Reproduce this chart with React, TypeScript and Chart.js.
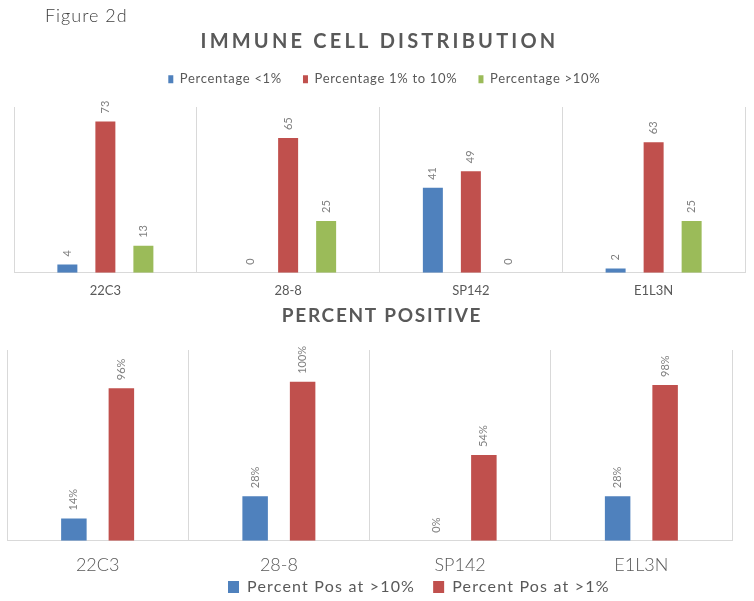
import React, { useEffect, useRef } from 'react';
import { Chart, registerables } from 'chart.js';

Chart.register(...registerables);

// ---- data ----
const categories = ['22C3', '28-8', 'SP142', 'E1L3N'];

const distTitle = 'IMMUNE CELL DISTRIBUTION';
const distSeriesNames = ['Percentage <1%', 'Percentage 1% to 10%', 'Percentage >10%'];
const pctBelow1 = [4, 0, 41, 2];
const pct1to10 = [73, 65, 49, 63];
const pctAbove10 = [13, 25, 0, 25];

const posTitle = 'PERCENT POSITIVE';
const posSeriesNames = ['Percent Pos at >10%', 'Percent Pos at >1%'];
const posAbove10 = [14, 28, 0, 28];
const posAbove1 = [96, 100, 54, 98];

const BLUE = '#4F81BD';
const RED = '#C0504D';
const GREEN = '#9BBB59';
const TEXT = '#595959';
const GRID = '#D9D9D9';
const FONT = 'Lato, "Open Sans", sans-serif';

function withSpacing(ctx: any, spacing: string, fn: () => any) {
  const prev = ctx.letterSpacing;
  ctx.letterSpacing = spacing;
  try {
    return fn();
  } finally {
    ctx.letterSpacing = prev;
  }
}

function tweaks(o: {
  titleSpacing: string;
  legendSpacing: string;
  legendHeight: number;
  legendLeft: number;
  titleLeft?: number;
}) {
  return {
    id: 'tweaks',
    beforeInit(chart: any) {
      const legend = chart.legend;
      const title = chart.titleBlock;
      const fit = legend.fit;
      legend.fit = function (...a: any[]) {
        withSpacing(this.ctx, o.legendSpacing, () => fit.apply(this, a));
        this.height = o.legendHeight;
      };
      const ldraw = legend.draw;
      legend.draw = function (...a: any[]) {
        withSpacing(this.ctx, o.legendSpacing, () => ldraw.apply(this, a));
      };
      const tdraw = title.draw;
      title.draw = function (...a: any[]) {
        withSpacing(this.ctx, o.titleSpacing, () => tdraw.apply(this, a));
      };
    },
    afterLayout(chart: any) {
      chart.legend.left = o.legendLeft;
      if (o.titleLeft != null) chart.titleBlock.left = o.titleLeft;
      // let tick labels extend below the (shortened) axis box without being clipped
      chart.scales.x.bottom = chart.height;
    },
  };
}

function valueLabels(suffix: string, size: number) {
  return {
    id: 'valueLabels',
    afterDatasetsDraw(chart: any) {
      const ctx = chart.ctx;
      ctx.save();
      ctx.font = `${size}px ${FONT}`;
      ctx.fillStyle = '#808080';
      ctx.textAlign = 'left';
      ctx.textBaseline = 'middle';
      chart.data.datasets.forEach((ds: any, i: number) => {
        const meta = chart.getDatasetMeta(i);
        meta.data.forEach((el: any, j: number) => {
          ctx.save();
          ctx.translate(el.x, el.y - 8);
          ctx.rotate(-Math.PI / 2);
          ctx.fillText(`${ds.data[j]}${suffix}`, 0, 0);
          ctx.restore();
        });
      });
      ctx.restore();
    },
  };
}

function DistChart() {
  const ref = useRef<HTMLCanvasElement>(null);
  useEffect(() => {
    const chart = new Chart(ref.current!, {
      type: 'bar',
      data: {
        labels: categories,
        datasets: [
          { label: distSeriesNames[0], data: pctBelow1, backgroundColor: BLUE, borderWidth: 0 },
          { label: distSeriesNames[1], data: pct1to10, backgroundColor: RED, borderWidth: 0 },
          { label: distSeriesNames[2], data: pctAbove10, backgroundColor: GREEN, borderWidth: 0 },
        ],
      },
      options: {
        responsive: false,
        animation: false,
        events: [],
        layout: { padding: { left: 14, right: 9, top: 0, bottom: 0 } },
        datasets: { bar: { categoryPercentage: 0.624, barPercentage: 0.526 } },
        scales: {
          x: {
            grid: { color: GRID, drawTicks: false, offset: true },
            border: { color: GRID },
            ticks: { color: TEXT, font: { family: FONT, size: 13 }, padding: 10 },
            afterFit: (s: any) => {
              s.height = 27.3;
            },
          },
          y: { display: false, min: 0, max: 80 },
        },
        plugins: {
          title: {
            display: true,
            text: distTitle,
            color: TEXT,
            font: { family: FONT, size: 20, weight: 'bold', lineHeight: 1 },
            padding: { top: 31.7, bottom: 0 },
          },
          legend: {
            position: 'top',
            align: 'start',
            labels: {
              boxWidth: 5,
              boxHeight: 8,
              padding: 21,
              color: TEXT,
              font: { family: FONT, size: 13 },
            },
          },
          tooltip: { enabled: false },
        },
      } as any,
      plugins: [
        tweaks({ titleSpacing: '3.2px', legendSpacing: '0.7px', legendHeight: 55.3, legendLeft: 147.3 }),
        valueLabels('', 11),
      ],
    });
    return () => chart.destroy();
  }, []);
  return (
    <canvas
      ref={ref}
      width={754}
      height={300}
      style={{ position: 'absolute', left: 0, top: 0, width: 754, height: 300, display: 'block' }}
    />
  );
}

function PosChart() {
  const ref = useRef<HTMLCanvasElement>(null);
  useEffect(() => {
    const chart = new Chart(ref.current!, {
      type: 'bar',
      data: {
        labels: categories,
        datasets: [
          { label: posSeriesNames[0], data: posAbove10, backgroundColor: BLUE, borderWidth: 0 },
          { label: posSeriesNames[1], data: posAbove1, backgroundColor: RED, borderWidth: 0 },
        ],
      },
      options: {
        responsive: false,
        animation: false,
        events: [],
        layout: { padding: { left: 7, right: 22, top: 0, bottom: 0 } },
        datasets: { bar: { categoryPercentage: 0.524, barPercentage: 0.537 } },
        scales: {
          x: {
            grid: { color: GRID, drawTicks: false, offset: true },
            border: { color: GRID },
            ticks: { color: TEXT, font: { family: FONT, size: 18, weight: '300' }, padding: 13.5 },
            afterFit: (s: any) => {
              s.height = 20.3;
            },
          },
          y: { display: false, min: 0, max: 120 },
        },
        plugins: {
          title: {
            display: true,
            text: posTitle,
            color: TEXT,
            font: { family: FONT, size: 19, weight: 'bold', lineHeight: 1 },
            padding: { top: 6.5, bottom: 24.5 },
          },
          legend: {
            position: 'bottom',
            align: 'start',
            labels: {
              boxWidth: 11,
              boxHeight: 12,
              padding: 18,
              color: TEXT,
              font: { family: FONT, size: 16 },
            },
          },
          tooltip: { enabled: false },
        },
      } as any,
      plugins: [
        tweaks({ titleSpacing: '1.7px', legendSpacing: '1.2px', legendHeight: 40, legendLeft: 210, titleLeft: 32 }),
        valueLabels('%', 11),
      ],
    });
    return () => chart.destroy();
  }, []);
  return (
    <canvas
      ref={ref}
      width={754}
      height={301}
      style={{ position: 'absolute', left: 0, top: 300, width: 754, height: 301, display: 'block' }}
    />
  );
}

export default function App() {
  return (
    <div
      style={{
        position: 'absolute',
        left: 0,
        top: 0,
        width: 754,
        height: 601,
        background: '#ffffff',
        overflow: 'hidden',
      }}
    >
      <DistChart />
      <PosChart />
      <div
        style={{
          position: 'absolute',
          left: 45,
          top: 5.7,
          fontFamily: FONT,
          fontSize: 18,
          fontWeight: 300,
          lineHeight: '18px',
          letterSpacing: '1px',
          color: '#404040',
          whiteSpace: 'nowrap',
        }}
      >
        Figure 2d
      </div>
    </div>
  );
}
